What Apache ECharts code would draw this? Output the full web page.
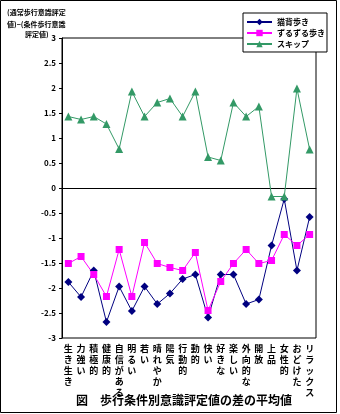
<!DOCTYPE html>
<html><head><meta charset="utf-8">
<script src="https://cdn.jsdelivr.net/npm/echarts@6/dist/echarts.min.js"></script>
<style>html,body{margin:0;padding:0;background:#fff}#c{width:340px;height:414px}</style>
</head><body><div id="c"></div>
<script>
var categories = ['生き生き','力強い','積極的','健康的','自信がある','明るい','若い','晴れやか','陽気','行動的','動的','快い','好きな','楽しい','外向的な','開放','上品','女性的','おどけた','リラックス'];
var seriesNames = ['猫背歩き','ずるずる歩き','スキップ'];
var nekoze = [-1.88,-2.18,-1.65,-2.68,-1.97,-2.46,-1.97,-2.32,-2.11,-1.82,-1.73,-2.59,-1.73,-1.73,-2.32,-2.23,-1.15,-0.22,-1.65,-0.58];
var zuruzuru = [-1.51,-1.37,-1.73,-2.17,-1.23,-2.17,-1.09,-1.51,-1.59,-1.65,-1.29,-2.45,-1.87,-1.51,-1.23,-1.51,-1.45,-0.93,-1.15,-0.93];
var skip = [1.43,1.37,1.43,1.28,0.78,1.93,1.43,1.71,1.79,1.43,1.93,0.62,0.55,1.71,1.43,1.63,-0.17,-0.17,1.99,0.77];
var yAxisNameLines = ['(通常歩行意識評定','値)−(条件歩行意識','評定値)'];
var chartTitle = '図　歩行条件別意識評定値の差の平均値';

var FONT = '"Noto Sans CJK JP", "Noto Sans", sans-serif';
var chart = echarts.init(document.getElementById('c'));
function mk(name, data, color, symbol, size) {
  return {name: name, type: 'line', data: data, symbol: symbol, symbolSize: size,
    lineStyle: {color: color, width: 1}, itemStyle: {color: color}, animation: false, z: 3};
}
chart.setOption({
  animation: false,
  grid: {left: 62, right: 24, top: 38, bottom: 76, show: true, borderColor: '#000', borderWidth: 1, backgroundColor: 'transparent'},
  legend: {
    orient: 'vertical', left: 243, top: 13,
    backgroundColor: '#fff', borderColor: '#000', borderWidth: 1,
    padding: [5, 2, 4, 3], itemGap: 3, itemWidth: 25, itemHeight: 8,
    textStyle: {fontFamily: FONT, fontSize: 8, fontWeight: 'bold', color: '#000', padding: [0, 0, 0, 0]},
    data: seriesNames, z: 10
  },
  xAxis: {
    type: 'category', data: categories, boundaryGap: true,
    axisLine: {show: true, lineStyle: {color: '#000', width: 1}},
    axisTick: {show: false},
    axisLabel: {interval: 0, margin: 5, fontFamily: FONT, fontSize: 9, fontWeight: 'bold', lineHeight: 11, color: '#000', verticalAlign: 'top',
      formatter: function (v) { return v.split('').join('\n'); }}
  },
  yAxis: {
    type: 'value', min: -3, max: 3, interval: 0.5,
    axisLine: {show: true, lineStyle: {color: '#000', width: 1}},
    axisTick: {show: true, inside: false, length: 3, lineStyle: {color: '#000'}},
    splitLine: {show: false},
    axisLabel: {fontFamily: FONT, fontSize: 8, fontWeight: 'bold', color: '#000', margin: 6}
  },
  series: [
    mk(seriesNames[0], nekoze, '#000080', 'diamond', 8),
    mk(seriesNames[1], zuruzuru, '#FF00FF', 'rect', 7),
    mk(seriesNames[2], skip, '#339966', 'triangle', 8)
  ],
  graphic: [
    {type: 'rect', shape: {x: 0.5, y: 0.5, width: 336, height: 412}, style: {fill: 'none', stroke: '#000', lineWidth: 1}, silent: true, z: 0},
    {type: 'text', left: 7, top: 9, style: {text: yAxisNameLines[0], font: 'bold 7px ' + FONT, fill: '#000'}},
    {type: 'text', left: 7, top: 21, style: {text: yAxisNameLines[1], font: 'bold 7px ' + FONT, fill: '#000'}},
    {type: 'text', left: 25, top: 31, style: {text: yAxisNameLines[2], font: 'bold 7px ' + FONT, fill: '#000'}},
    {type: 'text', x: 184, y: 400, style: {text: chartTitle, font: 'bold 12px ' + FONT, fill: '#000', textAlign: 'center', textVerticalAlign: 'middle'}}
  ]
});
</script></body></html>
